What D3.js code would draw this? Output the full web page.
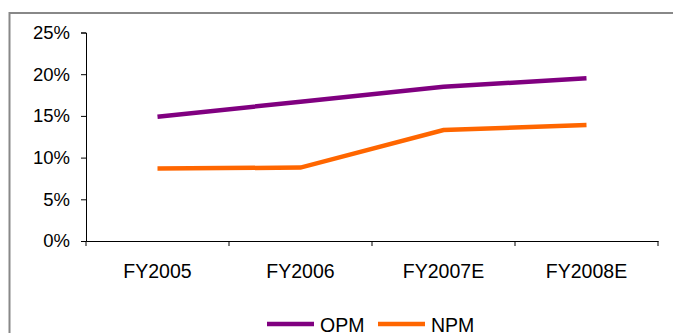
<!DOCTYPE html>
<html><head><meta charset="utf-8">
<script src="https://cdn.jsdelivr.net/npm/d3@7"></script>
<style>body{margin:0;background:#fff}svg{display:block}text{font-family:"Liberation Sans",Arial,sans-serif}</style>
</head><body><svg id="c" width="673" height="333"></svg>
<script>
const categories = ["FY2005","FY2006","FY2007E","FY2008E"];
const opm = [14.9, 16.7, 18.5, 19.5];
const npm = [8.7, 8.8, 13.3, 13.9];
const yTicks = [0,5,10,15,20,25];
const seriesNames = ["OPM","NPM"];
const colors = ["#800080","#FF6600"];

const svg = d3.select("#c");
svg.append("rect").attr("x",9.5).attr("y",13).attr("width",700).attr("height",400)
  .attr("fill","none").attr("stroke","#888").attr("stroke-width",2);

const x = d3.scaleBand().domain(categories).range([86,658]);
const y = d3.scaleLinear().domain([0,25]).range([241,32.5]);

const yAxis = svg.append("g").attr("transform","translate(86,0)")
  .call(d3.axisLeft(y).tickValues(yTicks).tickFormat(d=>d+"%").tickSizeOuter(0).tickSize(5).tickPadding(11));
const xAxis = svg.append("g").attr("transform","translate(0,241)")
  .call(d3.axisBottom(x).tickSize(0).tickSizeOuter(0).tickPadding(23));
const bounds = categories.map(c=>x(c)).concat([x.range()[1]]);
svg.append("g").selectAll("line").data(bounds).join("line")
  .attr("x1",d=>d).attr("x2",d=>d).attr("y1",241).attr("y2",246).attr("stroke","#000");
[yAxis,xAxis].forEach(g=>{
  g.selectAll("path,line").attr("stroke","#000");
  g.selectAll("text").attr("fill","#000").attr("font-family","Liberation Sans, Arial, sans-serif");
});
yAxis.selectAll("text").attr("font-size",18.5);
xAxis.selectAll("text").attr("font-size",19.5);

const line = d3.line().x((d,i)=>x(categories[i])+x.bandwidth()/2).y(d=>y(d));
[opm,npm].forEach((s,i)=>{
  svg.append("path").datum(s).attr("d",line).attr("fill","none")
    .attr("stroke",colors[i]).attr("stroke-width",4.5);
});

const leg = svg.append("g");
const legX = [267, 378];
seriesNames.forEach((n,i)=>{
  leg.append("line").attr("x1",legX[i]).attr("x2",legX[i]+47).attr("y1",324).attr("y2",324)
    .attr("stroke",colors[i]).attr("stroke-width",4.5);
  leg.append("text").attr("x",legX[i]+53).attr("y",332).attr("font-size",19.5).attr("fill","#000").text(n);
});
</script></body></html>
